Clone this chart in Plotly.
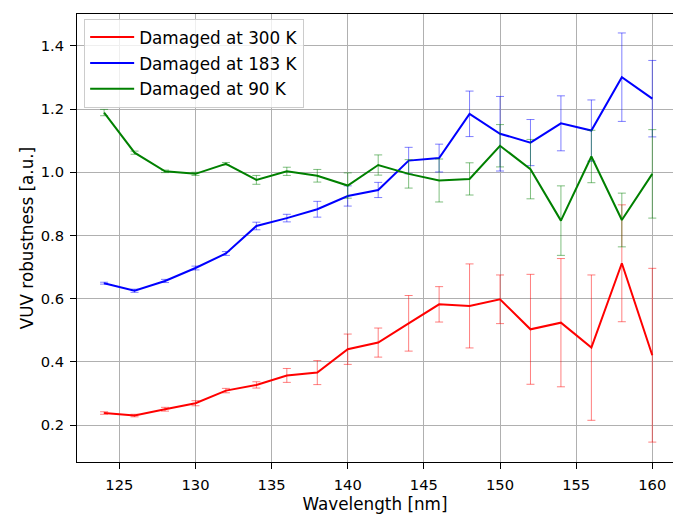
import plotly.graph_objects as go

# Wavelength grid [nm]
wavelength = [124, 126, 128, 130, 132, 134, 136, 138, 140, 142,
              144, 146, 148, 150, 152, 154, 156, 158, 160]

# VUV robustness and uncertainty for each damage temperature
robust_300 = [0.238, 0.230, 0.250, 0.269, 0.309, 0.327, 0.357, 0.366, 0.440, 0.461,
              0.522, 0.582, 0.577, 0.598, 0.503, 0.524, 0.445, 0.712, 0.421]
err_300 = [0.004, 0.004, 0.006, 0.008, 0.007, 0.010, 0.022, 0.038, 0.048, 0.046,
           0.088, 0.056, 0.133, 0.077, 0.174, 0.203, 0.230, 0.185, 0.275]

robust_183 = [0.649, 0.625, 0.656, 0.697, 0.743, 0.830, 0.855, 0.883, 0.925, 0.944,
              1.037, 1.045, 1.185, 1.122, 1.094, 1.155, 1.132, 1.301, 1.233]
err_183 = [0.003, 0.005, 0.005, 0.006, 0.006, 0.012, 0.012, 0.025, 0.032, 0.024,
           0.042, 0.044, 0.072, 0.118, 0.073, 0.087, 0.097, 0.140, 0.121]

robust_90 = [1.189, 1.062, 1.003, 0.995, 1.027, 0.976, 1.003, 0.989, 0.958, 1.023,
             0.995, 0.974, 0.979, 1.084, 1.010, 0.847, 1.050, 0.849, 0.995]
err_90 = [0.010, 0.005, 0.004, 0.005, 0.004, 0.014, 0.013, 0.020, 0.040, 0.032,
          0.045, 0.068, 0.051, 0.067, 0.094, 0.110, 0.083, 0.085, 0.140]

series = [
    ("Damaged at 300 K", robust_300, err_300, "#ff0000", "rgba(255,0,0,0.5)"),
    ("Damaged at 183 K", robust_183, err_183, "#0000ff", "rgba(0,0,255,0.5)"),
    ("Damaged at 90 K", robust_90, err_90, "#008000", "rgba(0,128,0,0.5)"),
]

TICK_FONT = dict(family="DejaVu Sans", size=14.7, color="#000000")
LABEL_FONT = dict(family="DejaVu Sans", size=16.8, color="#000000")

fig = go.Figure()
for name, vals, errs, color, ecolor in series:
    fig.add_trace(go.Scatter(
        x=wavelength, y=vals, name=name, mode="lines",
        legendgroup=name,
        line=dict(color=color, width=2),
        error_y=dict(type="data", array=errs, visible=True,
                     color=ecolor, thickness=1, width=4),
    ))

axis_common = dict(
    showgrid=True, gridcolor="#b0b0b0", gridwidth=1,
    showline=True, linecolor="#000000", linewidth=1,
    ticks="outside", ticklen=6, tickcolor="#000000", tickwidth=1,
    zeroline=False,
    tickfont=TICK_FONT,
)

fig.update_xaxes(
    range=[122.22, 161.36], tickvals=[125, 130, 135, 140, 145, 150, 155, 160],
    mirror=True, ticklabelstandoff=3,
    title=dict(text="Wavelength [nm]", standoff=6, font=LABEL_FONT),
    **axis_common,
)
fig.update_yaxes(
    range=[0.083, 1.501], tickvals=[0.2, 0.4, 0.6, 0.8, 1.0, 1.2, 1.4],
    tickformat=".1f", ticklabelstandoff=3,
    title=dict(text="VUV robustness [a.u.]", standoff=2, font=LABEL_FONT),
    **axis_common,
)

fig.update_layout(
    width=673, height=514,
    margin=dict(l=77, r=0, t=14, b=52),
    plot_bgcolor="#ffffff", paper_bgcolor="#ffffff",
    font=dict(family="DejaVu Sans", size=14.7, color="#000000"),
    showlegend=True,
    legend=dict(
        x=0.012, y=0.9895, xanchor="left", yanchor="top",
        bgcolor="rgba(255,255,255,0.8)", bordercolor="#cccccc", borderwidth=1,
        font=LABEL_FONT,
        traceorder="grouped", tracegroupgap=1, itemwidth=44,
    ),
)

fig.write_html("out.html")
